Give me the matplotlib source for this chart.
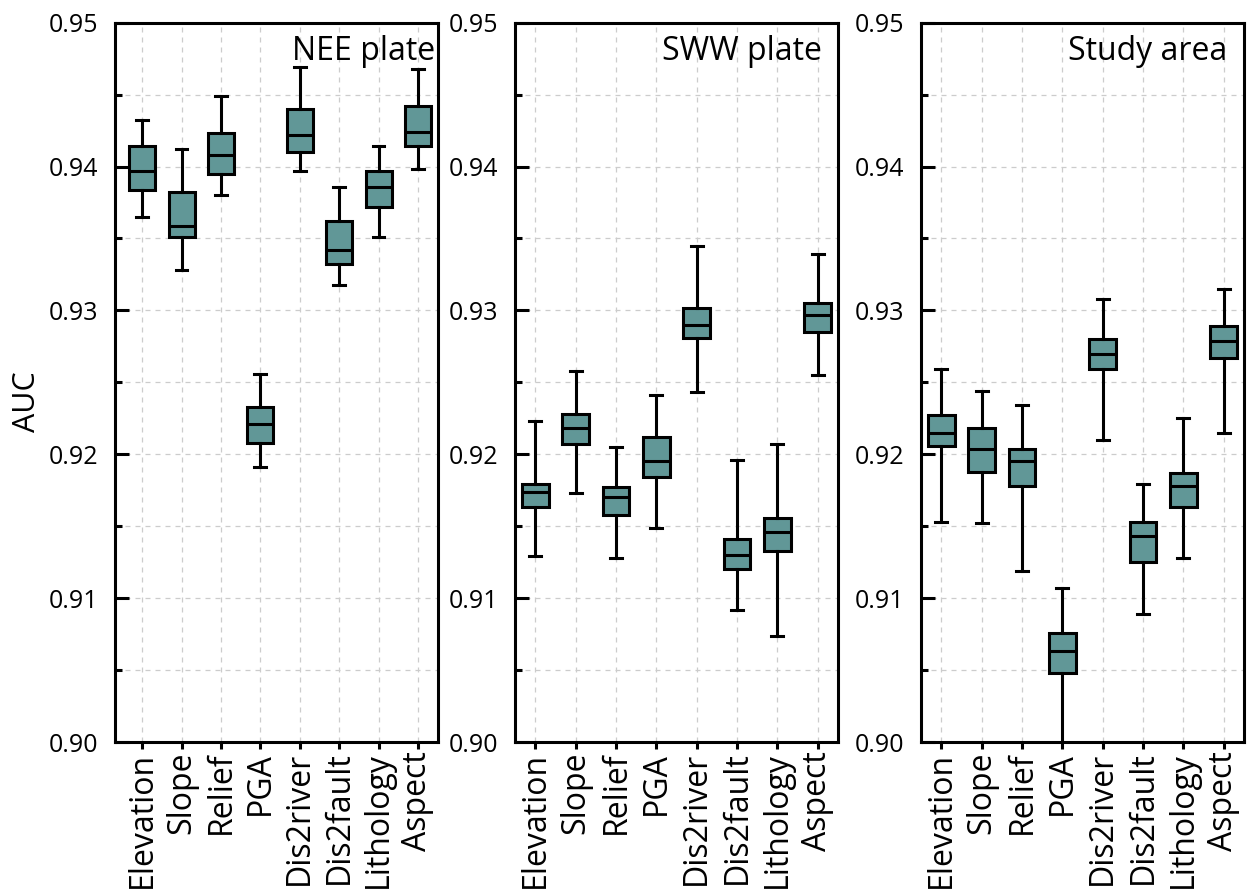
import numpy as np
import matplotlib.pyplot as plt
from matplotlib.ticker import MultipleLocator, FormatStrFormatter

plt.rcParams['font.family'] = ['Open Sans', 'DejaVu Sans']

factors = ['Elevation', 'Slope', 'Relief', 'PGA', 'Dis2river', 'Dis2fault', 'Lithology', 'Aspect']
titles = ['NEE plate', 'SWW plate', 'Study area']

# NEE plate: whisker low, Q1, median, Q3, whisker high
nee_lo = [0.9365, 0.9328, 0.9380, 0.9191, 0.9397, 0.9318, 0.9351, 0.9398]
nee_q1 = [0.9384, 0.9351, 0.9395, 0.9208, 0.9410, 0.9332, 0.9372, 0.9414]
nee_med = [0.9397, 0.9359, 0.9408, 0.9221, 0.9422, 0.9342, 0.9386, 0.9424]
nee_q3 = [0.9414, 0.9382, 0.9423, 0.9233, 0.9440, 0.9362, 0.9397, 0.9442]
nee_hi = [0.9432, 0.9412, 0.9449, 0.9256, 0.9469, 0.9386, 0.9414, 0.9468]

# SWW plate
sww_lo = [0.9129, 0.9173, 0.9128, 0.9149, 0.9243, 0.9092, 0.9074, 0.9255]
sww_q1 = [0.9163, 0.9207, 0.9158, 0.9184, 0.9281, 0.9120, 0.9133, 0.9285]
sww_med = [0.9174, 0.9218, 0.9170, 0.9195, 0.9290, 0.9130, 0.9146, 0.9297]
sww_q3 = [0.9179, 0.9228, 0.9177, 0.9212, 0.9302, 0.9141, 0.9156, 0.9305]
sww_hi = [0.9223, 0.9258, 0.9205, 0.9241, 0.9345, 0.9196, 0.9207, 0.9339]

# Study area
std_lo = [0.9153, 0.9152, 0.9119, 0.8990, 0.9210, 0.9089, 0.9128, 0.9215]
std_q1 = [0.9206, 0.9188, 0.9178, 0.9048, 0.9259, 0.9125, 0.9163, 0.9267]
std_med = [0.9215, 0.9204, 0.9195, 0.9063, 0.9270, 0.9143, 0.9178, 0.9279]
std_q3 = [0.9227, 0.9218, 0.9204, 0.9076, 0.9280, 0.9153, 0.9187, 0.9289]
std_hi = [0.9259, 0.9244, 0.9234, 0.9107, 0.9308, 0.9179, 0.9225, 0.9315]

panels = [
    (nee_lo, nee_q1, nee_med, nee_q3, nee_hi),
    (sww_lo, sww_q1, sww_med, sww_q3, sww_hi),
    (std_lo, std_q1, std_med, std_q3, std_hi),
]

box_color = '#619797'

fig = plt.figure(figsize=(12.48, 8.9), dpi=100)
lefts = [115/1248, 515/1248, 921/1248]
bottom = 1 - 742/890
height = (742 - 22.67)/890
width = 323/1248
xlims = [(0.31, 8.51), (0.5, 8.5), (0.5, 8.5)]
title_x = [0.991, 0.950, 0.947]

for i, (lo, q1, med, q3, hi) in enumerate(panels):
    ax = fig.add_axes([lefts[i], bottom, width, height])
    stats = []
    for k in range(len(factors)):
        stats.append({'whislo': lo[k], 'q1': q1[k], 'med': med[k],
                      'q3': q3[k], 'whishi': hi[k], 'fliers': []})
    ax.bxp(stats, positions=np.arange(1, 9), widths=0.66, capwidths=0.3,
           patch_artist=True, showfliers=False,
           boxprops=dict(facecolor=box_color, edgecolor='black', linewidth=2.2),
           medianprops=dict(color='black', linewidth=2.2),
           whiskerprops=dict(color='black', linewidth=2.2),
           capprops=dict(color='black', linewidth=2.2))

    ax.set_ylim(0.90, 0.95)
    ax.set_xlim(*xlims[i])
    ax.yaxis.set_major_locator(MultipleLocator(0.01))
    ax.yaxis.set_minor_locator(MultipleLocator(0.005))
    ax.yaxis.set_major_formatter(FormatStrFormatter('%.2f'))
    ax.set_xticks(np.arange(1, 9))
    ax.set_xticklabels(factors, rotation=90, fontsize=23)
    ax.tick_params(axis='y', which='major', direction='in', length=10, width=2.2,
                   labelsize=18, pad=12)
    ax.tick_params(axis='y', which='minor', direction='in', length=5, width=2.2)
    ax.tick_params(axis='x', direction='out', length=5, width=2.2, pad=2)
    ax.tick_params(top=False, right=False, which='both')

    ax.grid(True, which='both', axis='y', linestyle=(0, (4, 4)), color='#cccccc', linewidth=0.9)
    ax.grid(True, which='major', axis='x', linestyle=(0, (4, 4)), color='#cccccc', linewidth=0.9)
    ax.set_axisbelow(True)
    for s in ax.spines.values():
        s.set_linewidth(2.2)

    ax.text(title_x[i], 0.948, titles[i], transform=ax.transAxes,
            ha='right', va='baseline', fontsize=23)

fig.text(27/1248, 1 - 402/890, 'AUC', rotation=90, ha='center', va='center', fontsize=22)

fig.savefig('out.png', dpi=100)
